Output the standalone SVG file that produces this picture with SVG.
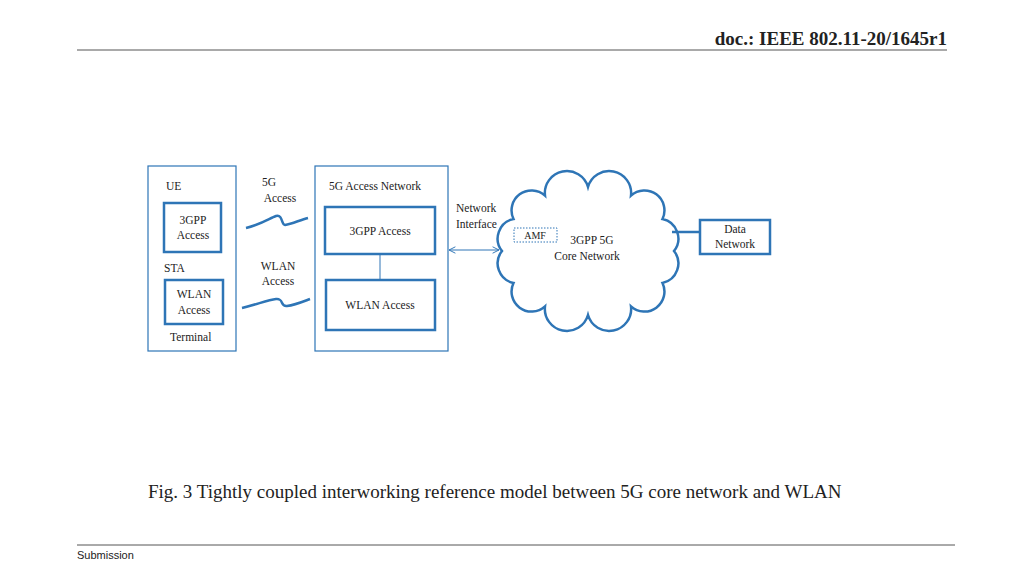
<svg xmlns="http://www.w3.org/2000/svg" width="1024" height="576" viewBox="0 0 1024 576">
<style>
text{font-family:"Liberation Serif",serif;fill:#222}
.s{font-size:11.5px}
.b{fill:none;stroke:#2e75b6;stroke-width:1.2}
.t{fill:none;stroke:#2e75b6;stroke-width:2.5}
.w{fill:none;stroke:#2e75b6;stroke-width:2.5}
</style>
<defs><marker id="a" viewBox="0 0 10 10" refX="9" refY="5" markerWidth="8" markerHeight="8" orient="auto-start-reverse"><path d="M1 1L9 5L1 9" fill="none" stroke="#2e75b6" stroke-width="1.2"/></marker></defs>
<rect width="1024" height="576" fill="#fff"/>
<text x="947" y="45" text-anchor="end" font-weight="bold" font-size="19">doc.: IEEE 802.11-20/1645r1</text>
<line x1="77" y1="50" x2="947" y2="50" stroke="#555"/>
<line x1="77" y1="545" x2="955" y2="545" stroke="#555"/>
<text x="77" y="559" font-size="11" style="font-family:'Liberation Sans',sans-serif">Submission</text>
<text x="148" y="498" font-size="19">Fig. 3 Tightly coupled interworking reference model between 5G core network and WLAN</text>
<g id="terminal"><rect class="b" x="148" y="166" width="88" height="185"/>
<text class="s" x="166" y="190">UE</text><text class="s" x="164" y="272">STA</text><text class="s" x="170" y="341">Terminal</text></g>
<g id="ue3gpp"><rect class="t" x="164" y="203" width="57" height="49"/><text class="s" x="193" y="224" text-anchor="middle">3GPP</text><text class="s" x="193" y="239" text-anchor="middle">Access</text></g>
<g id="uewlan"><rect class="t" x="165" y="280" width="58" height="44"/><text class="s" x="194" y="298" text-anchor="middle">WLAN</text><text class="s" x="194" y="314" text-anchor="middle">Access</text></g>
<g id="an"><rect class="b" x="315" y="166" width="133" height="185"/><text class="s" x="329" y="190">5G Access Network</text></g>
<g id="an3gpp"><rect class="t" x="325" y="207" width="110" height="47"/><text class="s" x="380" y="235" text-anchor="middle">3GPP Access</text></g>
<g id="anwlan"><rect class="t" x="326" y="280" width="109" height="50"/><text class="s" x="380" y="309" text-anchor="middle">WLAN Access</text></g>
<g id="core"><path class="t" d="M674,251 A20,20 0 0 1 662.5,283 A20,20 0 0 1 631,306.4 A22,22 0 0 1 588,315 A22,22 0 0 1 545,306.4 A20,20 0 0 1 513.5,283 A20,20 0 0 1 502,251 A20,20 0 0 1 513.5,219 A20,20 0 0 1 545,195.6 A22,22 0 0 1 588,187 A22,22 0 0 1 631,195.6 A20,20 0 0 1 662.5,219 A20,20 0 0 1 674,251Z"/>
<text class="s" x="592" y="244" text-anchor="middle">3GPP 5G</text><text class="s" x="587" y="260" text-anchor="middle">Core Network</text></g>
<g id="amf"><rect x="514" y="228" width="43" height="14" fill="#fff" stroke="#2e75b6" stroke-dasharray="1.5,1.5"/><text x="535" y="239" text-anchor="middle" font-size="10">AMF</text></g>
<g id="dn"><rect class="t" x="700" y="220" width="70" height="34"/><text class="s" x="735" y="233" text-anchor="middle">Data</text><text class="s" x="735" y="248" text-anchor="middle">Network</text></g>
<g id="labels"><text class="s" x="269" y="186" text-anchor="middle">5G</text><text class="s" x="280" y="202" text-anchor="middle">Access</text>
<text class="s" x="278" y="270" text-anchor="middle">WLAN</text><text class="s" x="278" y="285" text-anchor="middle">Access</text>
<text class="s" x="456" y="212">Network</text><text class="s" x="456" y="228">Interface</text></g>
<g id="connectors">
<path class="w" d="M246,228 C262,224 270,218 276,216 C283,214 281,225 285,225 C292,224 300,220 308,218"/>
<path class="w" d="M242,308 C258,304 268,300 276,299 C284,298 280,307 287,306 C295,305 302,302 310,299"/>
<line x1="380" y1="254" x2="380" y2="280" stroke="#2e75b6"/>
<line x1="449" y1="250" x2="499" y2="250" stroke="#2e75b6" marker-start="url(#a)" marker-end="url(#a)"/>
<line x1="672" y1="232" x2="700" y2="232" stroke="#2e75b6" stroke-width="2.5"/>
</g>
</svg>
